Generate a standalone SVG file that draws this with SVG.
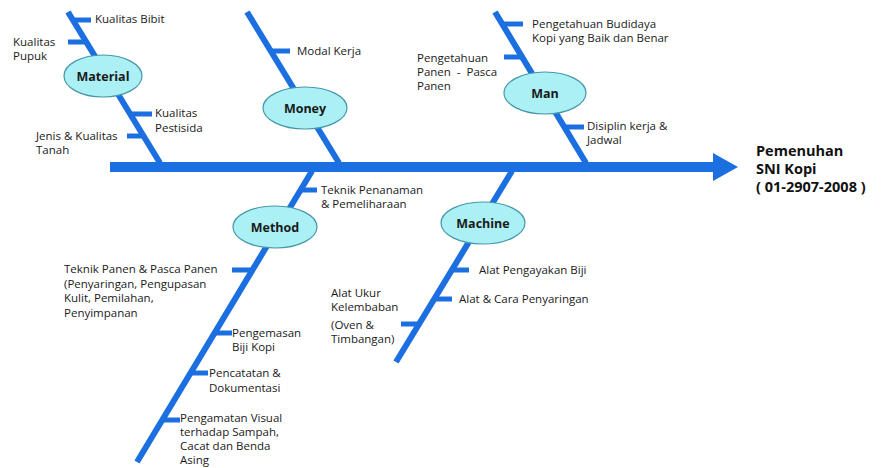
<svg xmlns="http://www.w3.org/2000/svg" width="883" height="468" viewBox="0 0 883 468">
<style>
.bone{stroke:#1c6fe0;stroke-width:6;fill:none;stroke-linecap:butt}
.tick{stroke:#1c6fe0;stroke-width:5;fill:none}
.lbl{font-family:"Open Sans","Liberation Sans",sans-serif;font-size:11.5px;fill:#1a1a1a}
.cat ellipse{fill:#aaf0f4;stroke:#4597aa;stroke-width:1.2}
.cat text{font-family:"Open Sans","Liberation Sans",sans-serif;font-size:12.5px;font-weight:bold;fill:#1a1a1a;text-anchor:middle}
.eff{font-family:"Open Sans","Liberation Sans",sans-serif;font-size:14.5px;font-weight:bold;fill:#111}
</style>
<rect width="883" height="468" fill="#fff"/>
<g id="connectors">
  <rect x="110" y="162" width="605" height="10" fill="#1c6fe0"/>
  <polygon points="713,153 738,167 713,181" fill="#1c6fe0"/>
  <line class="bone" x1="68" y1="12" x2="160" y2="163"/>
  <line class="bone" x1="247" y1="12" x2="339" y2="163"/>
  <line class="bone" x1="495" y1="12" x2="586" y2="163"/>
  <line class="bone" x1="312" y1="171" x2="137" y2="462"/>
  <line class="bone" x1="512" y1="171" x2="396" y2="362"/>
  <line class="tick" x1="73" y1="20" x2="91" y2="20"/>
  <line class="tick" x1="68" y1="42" x2="86" y2="42"/>
  <line class="tick" x1="130" y1="114" x2="152" y2="114"/>
  <line class="tick" x1="127" y1="136" x2="143" y2="136"/>
  <line class="tick" x1="271" y1="51" x2="290" y2="51"/>
  <line class="tick" x1="502" y1="24" x2="523" y2="24"/>
  <line class="tick" x1="504" y1="57" x2="522" y2="57"/>
  <line class="tick" x1="564" y1="127" x2="584" y2="127"/>
  <line class="tick" x1="299" y1="190" x2="317" y2="190"/>
  <line class="tick" x1="232" y1="270" x2="251" y2="270"/>
  <line class="tick" x1="214" y1="333" x2="232" y2="333"/>
  <line class="tick" x1="190" y1="373" x2="208" y2="373"/>
  <line class="tick" x1="162" y1="420" x2="180" y2="420"/>
  <line class="tick" x1="451" y1="270" x2="469" y2="270"/>
  <line class="tick" x1="434" y1="299" x2="452" y2="299"/>
  <line class="tick" x1="401" y1="324" x2="419" y2="324"/>
</g>
<g id="material" class="cat"><ellipse cx="103" cy="76" rx="39" ry="21"/><text x="103" y="80.5">Material</text></g>
<g id="money" class="cat"><ellipse cx="305" cy="108" rx="42" ry="21"/><text x="305" y="112.5">Money</text></g>
<g id="man" class="cat"><ellipse cx="545" cy="93" rx="41" ry="21"/><text x="545" y="97.5">Man</text></g>
<g id="method" class="cat"><ellipse cx="275" cy="227" rx="42" ry="21"/><text x="275" y="231.5">Method</text></g>
<g id="machine" class="cat"><ellipse cx="483" cy="223" rx="42" ry="21"/><text x="483" y="227.5">Machine</text></g>
<g id="effect"><text class="eff" x="756" y="156">Pemenuhan</text><text class="eff" x="756" y="174">SNI Kopi</text><text class="eff" x="756" y="192">( 01-2907-2008 )</text></g>
<g id="causes" class="lbl">
  <text x="95" y="23">Kualitas Bibit</text>
  <text x="13" y="46">Kualitas</text><text x="13" y="60">Pupuk</text>
  <text x="155" y="117">Kualitas</text><text x="155" y="132">Pestisida</text>
  <text x="36" y="140">Jenis &amp; Kualitas</text><text x="36" y="154">Tanah</text>
  <text x="297" y="55">Modal Kerja</text>
  <text x="532" y="28">Pengetahuan Budidaya</text><text x="532" y="42">Kopi yang Baik dan Benar</text>
  <text x="417" y="62">Pengetahuan</text><text x="417" y="76" xml:space="preserve">Panen  -  Pasca</text><text x="417" y="90">Panen</text>
  <text x="587" y="130">Disiplin kerja &amp;</text><text x="587" y="144">Jadwal</text>
  <text x="321" y="194">Teknik Penanaman</text><text x="321" y="208">&amp; Pemeliharaan</text>
  <text x="64" y="273">Teknik Panen &amp; Pasca Panen</text><text x="64" y="288">(Penyaringan, Pengupasan</text><text x="64" y="302">Kulit, Pemilahan,</text><text x="64" y="317">Penyimpanan</text>
  <text x="232" y="337">Pengemasan</text><text x="232" y="351">Biji Kopi</text>
  <text x="209" y="377">Pencatatan &amp;</text><text x="209" y="392">Dokumentasi</text>
  <text x="180" y="422">Pengamatan Visual</text><text x="180" y="436">terhadap Sampah,</text><text x="180" y="450">Cacat dan Benda</text><text x="180" y="464">Asing</text>
  <text x="479" y="274">Alat Pengayakan Biji</text>
  <text x="459" y="303">Alat &amp; Cara Penyaringan</text>
  <text x="331" y="297">Alat Ukur</text><text x="331" y="311">Kelembaban</text>
  <text x="331" y="329">(Oven &amp;</text><text x="331" y="343">Timbangan)</text>
</g>
</svg>
